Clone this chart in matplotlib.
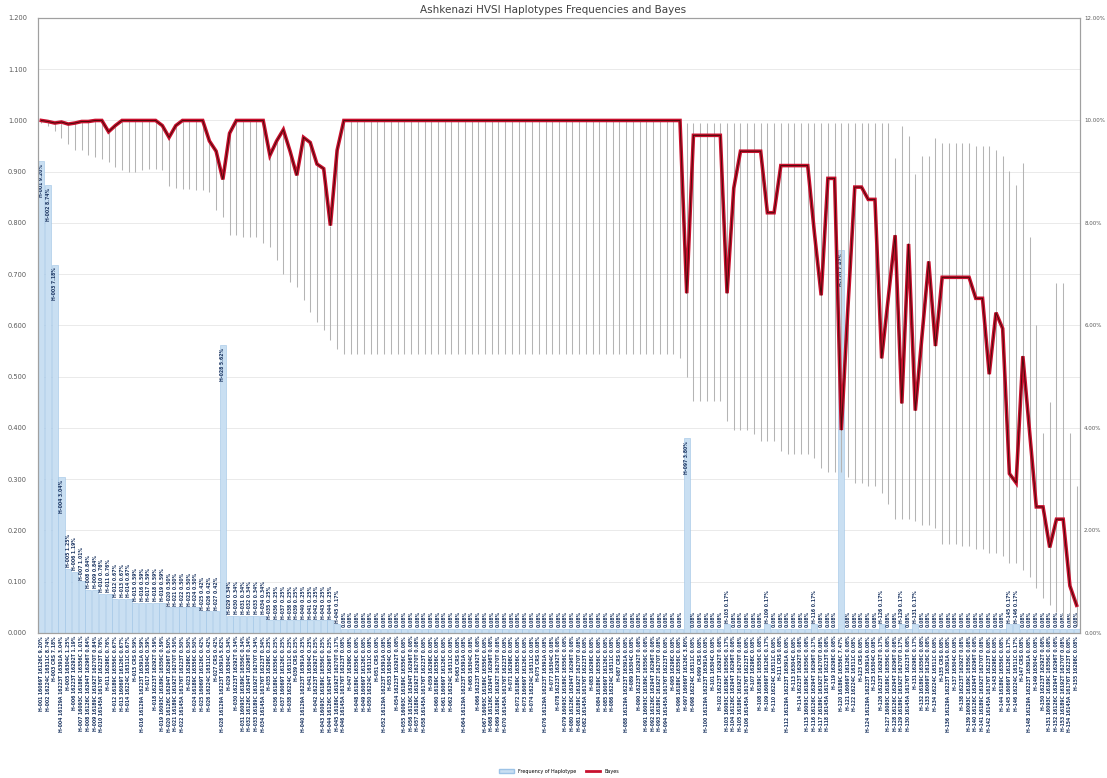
import numpy as np
import matplotlib.pyplot as plt
from matplotlib.lines import Line2D
from matplotlib.patches import Patch

# Bayes posterior (left axis), one value per haplotype
bayes = ([1.000, 0.998, 0.995, 0.997, 0.993, 0.995, 0.998, 0.998, 1.000, 1.000,
          0.978, 0.990, 1.000, 1.000, 1.000, 1.000, 1.000, 1.000, 0.990, 0.967,
          0.990, 1.000, 1.000, 1.000, 1.000, 0.960, 0.940, 0.885, 0.975, 1.000,
          1.000, 1.000, 1.000, 1.000, 0.932, 0.960, 0.982, 0.940, 0.893, 0.967,
          0.957, 0.915, 0.906, 0.795, 0.942]
         + [1.000] * 51
         + [0.663, 0.971, 0.971, 0.971, 0.971, 0.971, 0.663, 0.868, 0.940, 0.940,
            0.940, 0.940, 0.820, 0.820, 0.912, 0.912, 0.912, 0.912, 0.912, 0.780,
            0.659, 0.887, 0.887, 0.396, 0.640, 0.870, 0.870, 0.846, 0.846, 0.536,
            0.656, 0.776, 0.448, 0.759, 0.434, 0.580, 0.725, 0.560, 0.694, 0.694,
            0.694, 0.694, 0.694, 0.653, 0.653, 0.505, 0.625, 0.594, 0.311, 0.293,
            0.540, 0.393, 0.246, 0.246, 0.167, 0.222, 0.222, 0.092, 0.054])

# lower / upper ends of the grey interval bars
err_lo = ([0.995, 0.990, 0.980, 0.965, 0.955, 0.942, 0.942, 0.932, 0.928, 0.925,
           0.919, 0.909, 0.903, 0.899, 0.899, 0.903, 0.906, 0.906, 0.903, 0.873,
           0.869, 0.867, 0.867, 0.864, 0.864, 0.860, 0.825, 0.812, 0.776, 0.776,
           0.773, 0.773, 0.773, 0.760, 0.753, 0.727, 0.701, 0.685, 0.675, 0.650,
           0.626, 0.607, 0.591, 0.571, 0.555]
          + [0.545] * 50
          + [0.536, 0.500, 0.453, 0.453, 0.453, 0.453, 0.453, 0.413, 0.396, 0.396,
             0.396, 0.389, 0.375, 0.375, 0.375, 0.355, 0.350, 0.350, 0.350, 0.350,
             0.341, 0.321, 0.314, 0.314, 0.314, 0.304, 0.293, 0.293, 0.287, 0.287,
             0.273, 0.252, 0.222, 0.222, 0.222, 0.218, 0.211, 0.211, 0.205, 0.174,
             0.174, 0.174, 0.170, 0.170, 0.164, 0.164, 0.157, 0.157, 0.150, 0.136,
             0.136, 0.122, 0.109, 0.088, 0.068, 0.054, 0.040, 0.027, 0.013, 0.013])

err_hi = (bayes[:95]
          + [0.995] * 32
          + [0.926, 0.990, 0.970, 0.895, 0.930, 0.930, 0.965, 0.957, 0.957, 0.957,
             0.957, 0.957, 0.950, 0.950, 0.950, 0.943, 0.930, 0.902, 0.875, 0.917,
             0.773, 0.600, 0.391, 0.450, 0.683, 0.683, 0.391, 0.287])

# haplotype frequency in % (right axis)
freq = ([9.20, 8.74, 7.18, 3.04, 1.25, 1.19, 1.01, 0.84, 0.84, 0.76,
         0.76, 0.67, 0.67, 0.67, 0.59, 0.59, 0.59, 0.59, 0.59, 0.50,
         0.50, 0.50, 0.50, 0.50, 0.42, 0.42, 0.42, 5.62, 0.34, 0.34,
         0.34, 0.34, 0.34, 0.34, 0.25, 0.25, 0.25, 0.25, 0.25, 0.25,
         0.25, 0.25, 0.25, 0.25, 0.17]
        + [0.08] * 51
        + [3.80, 0.08, 0.08, 0.08, 0.08, 0.08, 0.17, 0.08, 0.08, 0.08,
           0.08, 0.08, 0.17, 0.08, 0.08, 0.08, 0.08, 0.08, 0.08, 0.17,
           0.08, 0.08, 0.08, 7.47, 0.08, 0.08, 0.08, 0.08, 0.08, 0.17,
           0.08, 0.08, 0.17, 0.08, 0.17, 0.08, 0.08, 0.08, 0.08, 0.08,
           0.08, 0.08, 0.08, 0.08, 0.08, 0.08, 0.08, 0.08, 0.17, 0.17,
           0.08, 0.08, 0.08, 0.08, 0.08, 0.08, 0.08, 0.08, 0.08])

motifs = ["16069T 16126C", "16224C 16311C", "CRS", "16129A 16223T 16391A",
          "16304C", "16223T 16292T", "16093C 16189C 16356C",
          "16126C 16294T 16296T", "16189C 16192T 16270T",
          "16145A 16176T 16223T", "16298C", "16189C 16356C"]

N = len(bayes)
x = np.arange(N)
names = ["H-%03d" % (i + 1) for i in range(N)]
tick_labels = ["%s %s %.2f%%" % (names[i], motifs[i % len(motifs)], freq[i])
               for i in range(N)]

navy = "#1F3864"
fig = plt.figure(figsize=(11.07, 7.78), dpi=100)
ax2 = fig.add_axes([0.0343, 0.1864, 0.9413, 0.7905])
ax = ax2.twinx()
ax.set_zorder(ax2.get_zorder() + 1)
ax.patch.set_visible(False)

# bars + gridlines on the % axis
for g in range(1, 13):
    ax2.axhline(g, color="#E6E6E6", lw=0.6, zorder=0)
ax2.bar(x, freq, width=0.9, color="#C9DFF2", edgecolor="#9DC3E6", lw=0.4, zorder=1)
for i in range(N):
    if freq[i] >= 0.17:
        lab = "%s %.2f%%" % (names[i], freq[i])
    else:
        lab = "%.2f%%" % freq[i]
    if freq[i] >= 2:
        ax2.text(x[i], freq[i] - 0.05, lab, rotation=90, ha="center", va="top",
                 fontsize=3.3, fontweight="bold", color=navy, zorder=2)
    else:
        ax2.text(x[i], freq[i] + 0.03, lab, rotation=90, ha="center", va="bottom",
                 fontsize=3.3, fontweight="bold", color=navy, zorder=2)
ax2.set_ylim(0, 12)
ax2.set_yticks(np.arange(0, 12.1, 2))
ax2.set_yticklabels(["%.2f%%" % v for v in np.arange(0, 12.1, 2)])
ax2.yaxis.tick_right()
ax2.tick_params(axis="y", labelsize=4, labelcolor="#595959", length=0, pad=3)

# Bayes line with interval bars
ax.vlines(x, err_lo, err_hi, color="#B4B4B4", lw=0.75, zorder=1)
ax.plot(x, bayes, color="#C8102E", lw=2.6, zorder=3, solid_joinstyle="miter")
ax.plot(x, bayes, color="#4A0A0A", lw=0.7, zorder=4)
ax.set_ylim(0, 1.2)
ax.set_yticks(np.arange(0, 1.21, 0.1))
ax.set_yticklabels(["%.3f" % v for v in np.arange(0, 1.21, 0.1)])
ax.yaxis.tick_left()
ax.tick_params(axis="y", labelsize=4.8, labelcolor="#595959", length=0, pad=8)

ax2.set_xlim(-0.5, N - 0.5)
ax2.set_xticks(x)
ax2.set_xticklabels(tick_labels, rotation=90, fontsize=3.3, fontweight="bold",
                    color=navy)
ax2.tick_params(axis="x", length=0, pad=2)

for a in (ax, ax2):
    for s in a.spines.values():
        s.set_color("#A0A0A0")
        s.set_linewidth(0.8)

fig.suptitle("Ashkenazi HVSI Haplotypes Frequencies and Bayes", y=0.993,
             fontsize=7.5, color="#404040")

handles = [Patch(facecolor="#C9DFF2", edgecolor="#9DC3E6", label="Frequency of Haplotype"),
           Line2D([0], [0], color="#C8102E", lw=2, label="Bayes")]
fig.legend(handles=handles, loc="lower center", bbox_to_anchor=(0.505, 0.0),
           ncol=2, fontsize=3.5, frameon=False, handlelength=3)

fig.savefig("out.png", dpi=100)
